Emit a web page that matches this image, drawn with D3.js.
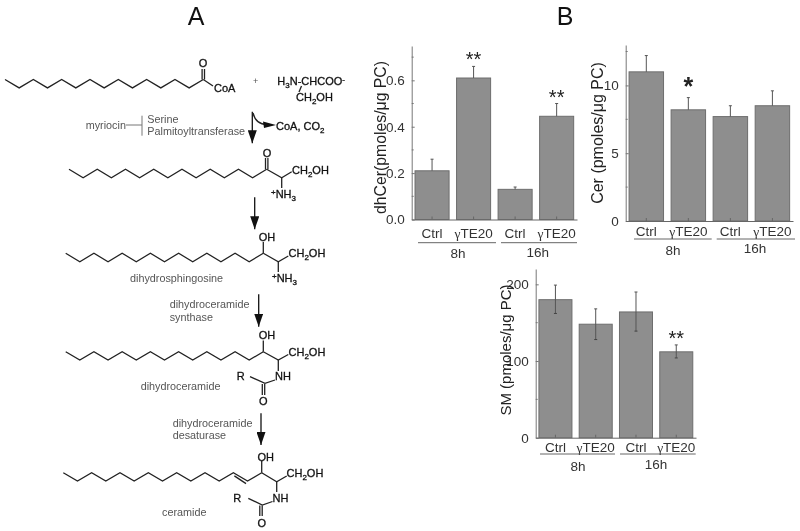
<!DOCTYPE html>
<html>
<head>
<meta charset="utf-8">
<script src="https://cdn.jsdelivr.net/npm/d3@7"></script>
<style>
body{margin:0;background:#fff}
svg{filter:blur(0.35px)}
text{font-family:"Liberation Sans",Arial,sans-serif}
.bond{fill:none;stroke:#222;stroke-width:1.3}
.chem{fill:#111;font-size:11px;stroke:#111;stroke-width:.3}
.enz{fill:#555;font-size:10.8px}
</style>
</head>
<body>
<div id="chart"></div>
<script>
var width = 800
var height = 531

// bar panels
var categories = ["Ctrl","γTE20","Ctrl","γTE20"]
var groups = ["8h","16h"]
var dhCerValues = [0.21,0.61,0.13,0.445]
var dhCerHigh = [0.26,0.66,0.14,0.50]
var dhCerStars = ["","**","","**"]
var dhCerTicks = [0,0.2,0.4,0.6]
var cerValues = [11,8.2,7.7,8.5]
var cerHigh = [12.2,9.1,8.5,9.6]
var cerStars = ["","*","",""]
var cerTicks = [0,5,10]
var smValues = [180,148,164,112]
var smHigh = [199,168,190,121]
var smLow = [162,128,139,104]
var smStars = ["","","","**"]
var smTicks = [0,100,200]

// pathway diagram, text and bonds
var chainStarts = [[5,79.5],[69,169.3],[65.7,253.3],[65.7,351.7],[63.3,472.7]]
var chainEnds = [203.3,266.7,263.3,263.3,261.7]
var chainSteps = 14
var chainRise = 8.4

var svg = d3.select("#chart").append("svg")
	.attr("width",width)
	.attr("height",height)
	.style("display","block")

svg.append("defs").append("marker")
	.attr("id","tip")
	.attr("viewBox","0 0 10 10")
	.attr("refX",10).attr("refY",5)
	.attr("markerUnits","userSpaceOnUse")
	.attr("markerWidth",13).attr("markerHeight",9)
	.attr("orient","auto")
	.attr("preserveAspectRatio","none")
	.append("path").attr("d","M0,0L10,5L0,10Z").attr("fill","#111")

var mainLabel = function(t,x,y){
	svg.append("text").attr("x",x).attr("y",y).attr("text-anchor","middle")
		.style("font-size","25px").style("fill","#111").text(t)
}
mainLabel("A",196,25)
mainLabel("B",565,25)

drawPanel({left:411.7,right:577,top:46,bottom:219.5,max:0.748,values:dhCerValues,high:dhCerHigh,
	stars:dhCerStars,ticks:dhCerTicks,minor:[0.1,0.3,0.5,0.7],fmt:d3.format(".1f"),
	label:"dhCer(pmoles/μg PC)",labelX:385.5,labelY:137.5,labelSize:15.8,
	lines:[[418,496],[501,577]],groupX:[458,537.7],groupY:[258,256.5],catY:238,lineY:242.7})
drawPanel({left:625.7,right:793,top:45,bottom:221,max:12.98,values:cerValues,high:cerHigh,
	stars:cerStars,ticks:cerTicks,minor:[2.5,7.5,12.5],fmt:d3.format("d"),
	label:"Cer (pmoles/μg PC)",labelX:603,labelY:133,labelSize:16,starSize:25,starBold:true,starLift:3,
	lines:[[634,711.7],[716.7,795]],groupX:[673,755],groupY:[255,253],catY:235.5,lineY:239})
drawPanel({left:535.7,right:696,top:269,bottom:437.7,max:220,values:smValues,high:smHigh,low:smLow,
	stars:smStars,ticks:smTicks,minor:[50,150],fmt:d3.format("d"),
	label:"SM (pmoles/μg PC)",labelX:510.5,labelY:350,labelSize:15,
	lines:[[540,615],[620,695.7]],groupX:[578,656],groupY:[470.5,469],catY:451.5,lineY:454})

function drawPanel(p){
	var x = d3.scaleBand().domain(d3.range(categories.length))
		.range([p.left,p.right]).paddingInner(0.18).paddingOuter(0.08)
	var y = d3.scaleLinear().domain([0,p.max]).range([p.bottom,p.top])
	var g = svg.append("g")
	var mid = function(d,i){return x(i)+x.bandwidth()/2}

	g.selectAll(".bar").data(p.values).enter().append("rect")
		.attr("class","bar")
		.attr("x",function(d,i){return x(i)})
		.attr("y",function(d){return y(d)})
		.attr("width",x.bandwidth())
		.attr("height",function(d){return y(0)-y(d)})
		.attr("fill","#8e8e8e").attr("stroke","#6e6e6e").attr("stroke-width",1)

	// error bars, the low end falls back on the bar top
	g.selectAll(".err").data(p.high).enter().append("line")
		.attr("class","err")
		.attr("x1",mid)
		.attr("x2",mid)
		.attr("y1",function(d){return y(d)})
		.attr("y2",function(d,i){return y(p.low ? p.low[i] : p.values[i])})
		.attr("stroke","#555").attr("stroke-width",1)
	g.selectAll(".cap").data(p.high).enter().append("line")
		.attr("class","cap")
		.attr("x1",function(d,i){return mid(d,i)-1.5})
		.attr("x2",function(d,i){return mid(d,i)+1.5})
		.attr("y1",function(d){return y(d)})
		.attr("y2",function(d){return y(d)})
		.attr("stroke","#555")
	if(p.low){
		g.selectAll(".capl").data(p.low).enter().append("line")
			.attr("class","capl")
			.attr("x1",function(d,i){return mid(d,i)-1.5})
			.attr("x2",function(d,i){return mid(d,i)+1.5})
			.attr("y1",function(d){return y(d)})
			.attr("y2",function(d){return y(d)})
			.attr("stroke","#444")
	}

	g.selectAll(".star").data(p.stars).enter().append("text")
		.attr("class","star")
		.attr("x",mid)
		.attr("y",function(d,i){return y(p.high[i])-(p.starLift||0)})
		.attr("text-anchor","middle")
		.style("font-size",(p.starSize||20)+"px")
		.style("font-weight",p.starBold?"bold":"normal")
		.style("fill","#222")
		.text(function(d){return d})

	// ticks point inward like the source plot
	var yAxis = d3.axisLeft(y).tickValues(p.ticks).tickFormat(p.fmt).tickSizeInner(-3).tickSizeOuter(0).tickPadding(7)
	var ya = g.append("g").attr("transform","translate("+p.left+",0)").call(yAxis)
	ya.select(".domain").attr("stroke","#777")
	ya.selectAll(".tick line").attr("stroke","#777")
	ya.selectAll("text").style("font-size","13.5px").style("fill","#333").style("font-family",'"Liberation Sans",Arial,sans-serif')

	g.selectAll(".minor").data(p.minor).enter().append("line")
		.attr("class","minor")
		.attr("x1",p.left).attr("x2",p.left+2)
		.attr("y1",function(d){return y(d)}).attr("y2",function(d){return y(d)})
		.attr("stroke","#777")

	var xAxis = d3.axisBottom(x).tickFormat("").tickSizeInner(-3).tickSizeOuter(0)
	var xa = g.append("g").attr("transform","translate(0,"+p.bottom+")").call(xAxis)
	xa.select(".domain").attr("stroke","#666")
	xa.selectAll(".tick line").attr("stroke","#666")

	g.selectAll(".cat").data(categories).enter().append("text")
		.attr("class","cat")
		.attr("x",mid)
		.attr("y",p.catY)
		.attr("text-anchor","middle")
		.style("font-size","13.5px").style("fill","#333")
		.each(function(d){
			var t = d3.select(this)
			if(d.charAt(0)=="γ"){
				t.append("tspan").style("font-family",'"Liberation Serif",serif').text("γ")
				t.append("tspan").text(d.slice(1))
			}else{
				t.text(d)
			}
		})

	g.selectAll(".groupline").data(p.lines).enter().append("line")
		.attr("class","groupline")
		.attr("x1",function(d){return d[0]}).attr("x2",function(d){return d[1]})
		.attr("y1",p.lineY).attr("y2",p.lineY)
		.attr("stroke","#666")

	g.selectAll(".group").data(groups).enter().append("text")
		.attr("class","group")
		.attr("x",function(d,i){return p.groupX[i]})
		.attr("y",function(d,i){return p.groupY[i]})
		.attr("text-anchor","middle")
		.style("font-size","13.5px").style("fill","#333")
		.text(function(d){return d})

	g.append("text")
		.attr("transform","translate("+p.labelX+","+p.labelY+") rotate(-90)")
		.attr("text-anchor","middle")
		.style("font-size",p.labelSize+"px").style("fill","#222")
		.text(p.label)
}

// --- pathway ---
var bondLine = d3.line()
function bond(pts){
	svg.append("path").attr("class","bond").attr("d",bondLine(pts))
}
function chain(i){
	var s = chainStarts[i]
	var dx = (chainEnds[i]-s[0])/chainSteps
	var pts = d3.range(chainSteps+1).map(function(k){
		return [s[0]+k*dx, s[1]+(k%2)*chainRise]
	})
	bond(pts)
	return pts
}
// _x is a subscript, ^x a superscript
function chem(str,x,y,anchor){
	var t = svg.append("text").attr("class","chem").attr("x",x).attr("y",y)
		.attr("text-anchor",anchor||"start")
	var parts = str.split(/([_^].)/)
	var shift = 0
	parts.forEach(function(s){
		if(s=="") return
		var ts = t.append("tspan")
		if(s.charAt(0)=="_"){
			ts.attr("dy",3-shift).style("font-size","8px").text(s.charAt(1))
			shift = 3
		}else if(s.charAt(0)=="^"){
			ts.attr("dy",-3-shift).style("font-size","8px").text(s.charAt(1))
			shift = -3
		}else{
			ts.attr("dy",-shift).text(s)
			shift = 0
		}
	})
}
function enzyme(str,x,y){
	svg.append("text").attr("class","enz").attr("x",x).attr("y",y).text(str)
}
function arrow(x,y1,y2){
	svg.append("line").attr("x1",x).attr("x2",x).attr("y1",y1).attr("y2",y2)
		.attr("stroke","#111").attr("stroke-width",1.3).attr("marker-end","url(#tip)")
}
function doubleUp(x,y1,y2){
	bond([[x-1.2,y1],[x-1.2,y2]])
	bond([[x+1.2,y1],[x+1.2,y2]])
}

// palmitoyl-CoA + serine
chain(0)
bond([[203.3,79.5],[213,86]])
doubleUp(203.3,79.5,69)
chem("O",203,67,"middle")
chem("CoA",214,92)
svg.append("text").attr("x",255.7).attr("y",84).attr("text-anchor","middle").style("font-size","9px").style("fill","#555").text("+")
chem("H_3N-CHCOO^-",277.3,84.5)
bond([[301.5,86],[299,92]])
chem("CH_2OH",296,101)

// first step
enzyme("myriocin",85.7,128.5)
svg.append("line").attr("x1",126).attr("x2",142).attr("y1",125).attr("y2",125).attr("stroke","#777")
svg.append("line").attr("x1",142).attr("x2",142).attr("y1",115.7).attr("y2",135.7).attr("stroke","#777")
enzyme("Serine",147.3,122.5)
enzyme("Palmitoyltransferase",147.3,135)
arrow(252.3,111.7,143.3)
svg.append("path").attr("class","bond").attr("d","M253,113Q256,125 268,124.5")
svg.append("path").attr("d","M263,121.5L276,125L264,128Z").attr("fill","#111")
chem("CoA, CO_2",276,130)

// 3-ketosphinganine
chain(1)
bond([[266.7,169.3],[281.7,177.7],[291.7,171.7]])
doubleUp(266.7,169.3,158)
chem("O",267,157,"middle")
chem("CH_2OH",292,173.5)
bond([[281.7,177.7],[281.7,188]])
chem("^+NH_3",271,198)
arrow(254.7,197.3,229.3)

// dihydrosphingosine
chain(2)
bond([[263.3,253.3],[278.3,261.7],[288.3,256]])
bond([[263.3,253.3],[263.3,242]])
chem("OH",267,240.5,"middle")
chem("CH_2OH",288.5,257)
bond([[278.3,261.7],[278.3,272]])
chem("^+NH_3",272,282)
enzyme("dihydrosphingosine",130,282)

enzyme("dihydroceramide",169.7,308)
enzyme("synthase",169.7,321)
arrow(258.7,294.3,326.7)

// dihydroceramide
chain(3)
bond([[263.3,351.7],[278.3,360],[288.3,354.5]])
bond([[263.3,351.7],[263.3,340.5]])
chem("OH",267,339,"middle")
chem("CH_2OH",288.5,355.5)
bond([[278.3,360],[278.3,371]])
chem("NH",275,380)
bond([[275,380],[265,383.3],[250,376.7]])
doubleUp(263.5,384,395)
chem("R",240.7,380,"middle")
chem("O",263.3,405,"middle")
enzyme("dihydroceramide",140.7,389.5)

enzyme("dihydroceramide",172.7,426.5)
enzyme("desaturase",172.7,439)
arrow(261,413.3,445)

// ceramide
var cerPts = chain(4)
bond([[cerPts[12][0]+1,cerPts[12][1]+3.2],[cerPts[13][0]-1.5,cerPts[13][1]+2.5]])
bond([[261.7,472.7],[276.7,481.7],[286.7,476]])
bond([[261.7,472.7],[261.7,461]])
chem("OH",265.7,460.5,"middle")
chem("CH_2OH",286.5,477)
bond([[276.7,481.7],[276.7,492]])
chem("NH",272.5,501.5)
bond([[272.5,501.5],[262.3,505],[248.3,498.3]])
doubleUp(261,505.5,516)
chem("R",237.3,501.5,"middle")
chem("O",261.7,526.5,"middle")
enzyme("ceramide",162,516)
</script>
</body>
</html>
